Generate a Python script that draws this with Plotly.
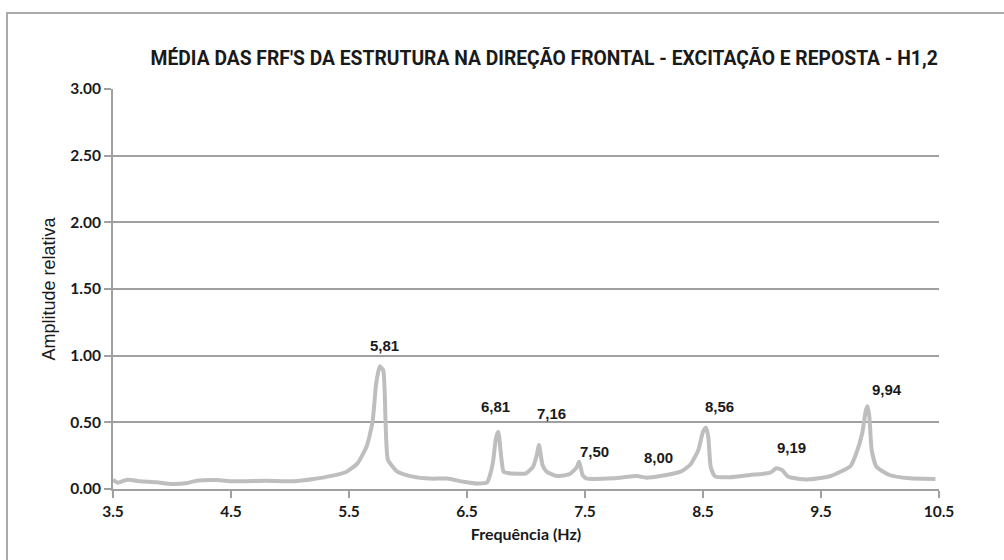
import plotly.graph_objects as go

freq = [3.50, 3.54, 3.62, 3.73, 3.87, 4.00, 4.13, 4.21, 4.38, 4.52, 4.80, 5.03, 5.20, 5.36,
        5.48, 5.57, 5.65, 5.70, 5.73, 5.76, 5.79, 5.81, 5.83, 5.91, 6.04, 6.19, 6.33, 6.47,
        6.58, 6.67, 6.69, 6.72, 6.745, 6.765, 6.79, 6.81, 6.86, 7.00, 7.06, 7.09, 7.11, 7.14,
        7.175, 7.26, 7.37, 7.43, 7.45, 7.48, 7.51, 7.74, 7.94, 8.02, 8.14, 8.31, 8.39, 8.46,
        8.50, 8.525, 8.545, 8.565, 8.60, 8.73, 8.90, 9.07, 9.12, 9.17, 9.22, 9.32, 9.41, 9.58,
        9.75, 9.80, 9.85, 9.88, 9.896, 9.91, 9.93, 9.97, 10.08, 10.25, 10.47]
amp = [0.070, 0.047, 0.070, 0.058, 0.050, 0.037, 0.045, 0.062, 0.067, 0.058, 0.062, 0.058, 0.075, 0.100,
       0.130, 0.190, 0.320, 0.505, 0.790, 0.920, 0.890, 0.500, 0.220, 0.130, 0.093, 0.078, 0.078, 0.055,
       0.042, 0.050, 0.090, 0.200, 0.380, 0.430, 0.240, 0.130, 0.118, 0.118, 0.167, 0.250, 0.330, 0.180,
       0.130, 0.097, 0.112, 0.162, 0.205, 0.105, 0.080, 0.080, 0.097, 0.085, 0.097, 0.130, 0.180, 0.290,
       0.430, 0.460, 0.390, 0.167, 0.097, 0.088, 0.105, 0.122, 0.155, 0.143, 0.093, 0.075, 0.073, 0.097,
       0.172, 0.270, 0.420, 0.590, 0.620, 0.540, 0.290, 0.167, 0.105, 0.080, 0.075]

peak_labels = ["5,81", "6,81", "7,16", "7,50", "8,00", "8,56", "9,19", "9,94"]
label_x = [5.80, 6.74, 7.22, 7.58, 8.12, 8.64, 9.25, 10.06]
label_y = [1.08, 0.62, 0.57, 0.285, 0.24, 0.62, 0.31, 0.75]

title_text = "MÉDIA DAS FRF'S DA ESTRUTURA NA DIREÇÃO FRONTAL - EXCITAÇÃO E REPOSTA - H1,2"
x_title = "Frequência (Hz)"
y_title = "Amplitude relativa"

fig = go.Figure()
fig.add_trace(go.Scatter(
    x=freq, y=amp, mode="lines",
    line=dict(color="rgb(190,190,190)", width=4, shape="spline", smoothing=0.5),
    hoverinfo="skip", showlegend=False,
))

for t, lx, ly in zip(peak_labels, label_x, label_y):
    fig.add_annotation(x=lx, y=ly, text="<b>" + t + "</b>", showarrow=False,
                       font=dict(family="Liberation Sans, Arial", size=15, color="#1a1a1a"),
                       xanchor="center", yanchor="middle")

grid = "rgb(160,160,160)"
tickfont = dict(family="Lato, Open Sans", size=15.5, color="#1a1a1a", weight="bold")

fig.update_layout(
    width=1004, height=560,
    margin=dict(l=113, r=65, t=89, b=71),
    paper_bgcolor="white", plot_bgcolor="white",
    title=dict(text="<b>" + title_text + "</b>",
               font=dict(family="Roboto", size=19.3, color="#1a1a1a"),
               x=0.522, xref="paper", xanchor="center",
               y=1 - 58 / 560, yref="container", yanchor="middle"),
    xaxis=dict(range=[3.5, 10.5], tick0=3.5, dtick=1, tickformat=".1f",
               showgrid=False, zeroline=False,
               showline=True, linecolor=grid, linewidth=2,
               ticks="outside", ticklen=7, tickcolor=grid, tickwidth=2,
               tickfont=tickfont,
               title=dict(text="<b>" + x_title + "</b>",
                          font=dict(family="Lato, Open Sans", size=16, color="#1a1a1a"),
                          standoff=10)),
    yaxis=dict(range=[0, 3], dtick=0.5, tickformat=".2f",
               showgrid=True, gridcolor=grid, gridwidth=1.5, zeroline=False,
               showline=True, linecolor=grid, linewidth=2,
               ticks="outside", ticklen=7, tickcolor=grid, tickwidth=1.5,
               tickfont=tickfont,
               title=dict(text=y_title,
                          font=dict(family="Liberation Sans, Arial", size=18, color="#1a1a1a"),
                          standoff=10)),
    shapes=[dict(type="rect", xref="paper", yref="paper",
                 x0=(7 - 113) / 826, x1=1.2, y0=-0.5, y1=(489 - 13) / 400,
                 line=dict(color="rgb(170,170,170)", width=2), layer="below")],
)

fig.write_html("out.html")
